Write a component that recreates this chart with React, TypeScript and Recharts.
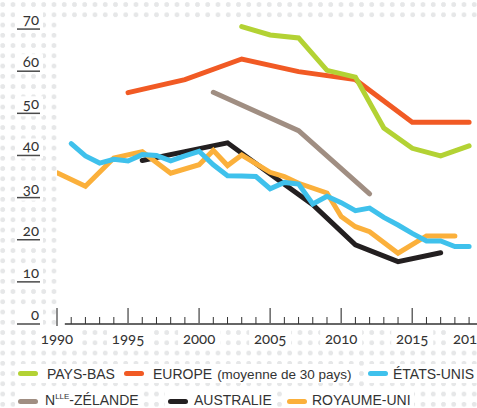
import React from "react";
import { LineChart, Line, XAxis, YAxis, ReferenceLine } from "recharts";

// Years and values (share of ..., %)
const paysBasYears = [2003, 2005, 2007, 2009, 2011, 2013, 2015, 2017, 2019];
const paysBas = [70.6, 68.6, 67.9, 60.2, 58.6, 46.5, 41.7, 39.9, 42.3];

const europeYears = [1995, 1999, 2003, 2007, 2011, 2015, 2019];
const europe = [54.9, 58.0, 62.9, 59.9, 58.0, 47.9, 47.9];

const nzYears = [2001, 2007, 2012];
const nz = [55.0, 45.9, 30.9];

const australieYears = [1996, 1999, 2002, 2005, 2008, 2011, 2014, 2017];
const australie = [38.8, 40.9, 43.0, 35.6, 28.3, 18.8, 14.8, 16.9];

const usYears = [
  1991, 1992, 1993, 1994, 1995, 1996, 1997, 1998, 1999, 2000, 2001, 2002, 2003, 2004, 2005,
  2006, 2007, 2008, 2009, 2010, 2011, 2012, 2013, 2014, 2015, 2016, 2017, 2018, 2019,
];
const us = [
  42.8, 39.9, 38.2, 39.1, 38.7, 40.2, 40.0, 38.7, 39.9, 41.0, 37.8, 35.2, 35.1, 35.0, 32.1,
  33.6, 33.2, 28.5, 30.3, 28.8, 26.9, 27.5, 25.3, 23.5, 21.5, 19.7, 19.7, 18.4, 18.4,
];

const ukYears = [
  1990, 1992, 1994, 1996, 1998, 2000, 2001, 2002, 2003, 2005, 2006, 2007, 2009, 2010, 2011,
  2012, 2014, 2016, 2018,
];
const uk = [
  35.9, 32.7, 39.4, 40.9, 35.8, 37.8, 41.2, 37.6, 40.1, 36.0, 35.0, 33.4, 31.1, 25.5, 23.1,
  21.9, 16.8, 20.9, 20.9,
];

const yTicks = [0, 10, 20, 30, 40, 50, 60, 70];
const xLabels = [1990, 1995, 2000, 2005, 2010, 2015, 2019];
const allYears = Array.from({ length: 30 }, (_, i) => 1990 + i);

const zip = (years: number[], values: number[]) =>
  years.map((year, i) => ({ year, value: values[i] }));

// drawing order: black at the bottom, green on top
const series = [
  { key: "europe", color: "#f15a24", data: zip(europeYears, europe) },
  { key: "nz", color: "#a08e82", data: zip(nzYears, nz) },
  { key: "australie", color: "#231f20", data: zip(australieYears, australie) },
  { key: "uk", color: "#fbb03b", data: zip(ukYears, uk) },
  { key: "us", color: "#3fc1ec", data: zip(usYears, us) },
  { key: "paysBas", color: "#b3d234", data: zip(paysBasYears, paysBas) },
];

const legendRows = [
  [
    { color: "#b3d234", label: "PAYS-BAS", left: 18, gap: 9 },
    { color: "#f15a24", label: "EUROPE", note: "(moyenne de 30 pays)", left: 124, gap: 9 },
    { color: "#3fc1ec", label: "ÉTATS-UNIS", left: 368, gap: 5 },
  ],
  [
    { color: "#a08e82", label: "-ZÉLANDE", sup: "LLE", left: 18, gap: 7 },
    { color: "#231f20", label: "AUSTRALIE", left: 168, gap: 6 },
    { color: "#fbb03b", label: "ROYAUME-UNI", left: 287, gap: 5 },
  ],
];

const numFont = "Lato, 'Open Sans', sans-serif";

const YTick = (props: any) => {
  const { y, payload } = props;
  return (
    <g>
      <rect x={15} y={y - 17} width={28} height={20} fill="#fff" />
      <line x1={17} x2={40} y1={y} y2={y} stroke="#4a4a4a" strokeWidth={1.5} />
      <text
        x={39}
        y={y - 4}
        textAnchor="end"
        fontSize={15}
        fill="#333"
        style={{ fontFamily: numFont, fontVariantNumeric: "oldstyle-nums" }}
      >
        {payload.value}
      </text>
    </g>
  );
};

const XTick = (props: any) => {
  const { x, y, payload } = props;
  const year = payload.value as number;
  const major = year % 5 === 0;
  const labelled = xLabels.includes(year);
  return (
    <g>
      {major ? (
        <line x1={x} x2={x} y1={y - 16} y2={year === 1990 ? y + 2 : y} stroke="#666" strokeWidth={1.5} />
      ) : (
        <line x1={x} x2={x} y1={y - 7} y2={y} stroke="#333" strokeWidth={1} />
      )}
      {labelled && (
        <g>
          <rect x={x - 21} y={y + 6} width={42} height={19} fill="#fff" />
          <text
            x={x}
            y={y + 20}
            textAnchor="middle"
            fontSize={15}
            fill="#333"
            style={{ fontFamily: numFont, fontVariantNumeric: "oldstyle-nums" }}
          >
            {year}
          </text>
        </g>
      )}
    </g>
  );
};

export default function App() {
  return (
    <div
      style={{
        position: "relative",
        width: 477,
        height: 408,
        overflow: "hidden",
        backgroundColor: "#fff",
        backgroundImage: "radial-gradient(circle, #e6e7e8 2.2px, transparent 2.7px)",
        backgroundSize: "10.25px 10.25px",
        backgroundPosition: "-2.4px -0.6px",
      }}
    >
      <style>{"body{margin:0}"}</style>
      <div style={{ position: "absolute", left: 57, top: 20, width: 430, height: 307, background: "#fff" }} />
      <div style={{ position: "absolute", left: 0, top: 0 }}>
        <LineChart width={490} height={408} margin={{ top: 8, right: 6.7, bottom: 54, left: 0 }}>
          <XAxis
            type="number"
            dataKey="year"
            domain={[1990, 2020]}
            ticks={allYears}
            interval={0}
            allowDataOverflow
            axisLine={false}
            tickLine={false}
            tickSize={0}
            tickMargin={0}
            height={30}
            tick={<XTick />}
          />
          <YAxis
            type="number"
            domain={[0, 75]}
            ticks={yTicks}
            interval={0}
            width={57}
            axisLine={false}
            tickLine={false}
            tick={<YTick />}
          />
          <ReferenceLine
            segment={[
              { x: 1990.55, y: 0 },
              { x: 2020, y: 0 },
            ]}
            stroke="#333"
            strokeWidth={1.5}
            ifOverflow="visible"
          />
          {series.map((s) => (
            <Line
              key={s.key}
              data={s.data}
              dataKey="value"
              type="linear"
              stroke={s.color}
              strokeWidth={5}
              strokeLinecap="round"
              strokeLinejoin="miter"
              dot={false}
              isAnimationActive={false}
            />
          ))}
        </LineChart>
      </div>
      {legendRows.map((row, r) =>
        row.map((item) => (
          <div
            key={item.label}
            style={{
              position: "absolute",
              left: item.left - 3,
              top: r === 0 ? 364 : 390,
              height: 19,
              display: "flex",
              alignItems: "center",
              background: "#fff",
              padding: "0 3px",
              fontFamily: "'Liberation Sans', Arial, sans-serif",
              fontSize: 14,
              color: "#333",
              whiteSpace: "nowrap",
            }}
          >
            <span
              style={{
                display: "inline-block",
                width: 20,
                height: 5,
                borderRadius: 3,
                background: item.color,
                marginRight: item.gap,
                marginTop: r === 0 ? 0 : 4,
              }}
            />
            <span>
              {item.sup ? (
                <>
                  N<sup style={{ fontSize: 8, verticalAlign: 6, lineHeight: 0 }}>{item.sup}</sup>
                </>
              ) : null}
              {item.label}
              {item.note ? (
                <span style={{ fontSize: 13.5, marginLeft: 5 }}>{item.note}</span>
              ) : null}
            </span>
          </div>
        ))
      )}
    </div>
  );
}
